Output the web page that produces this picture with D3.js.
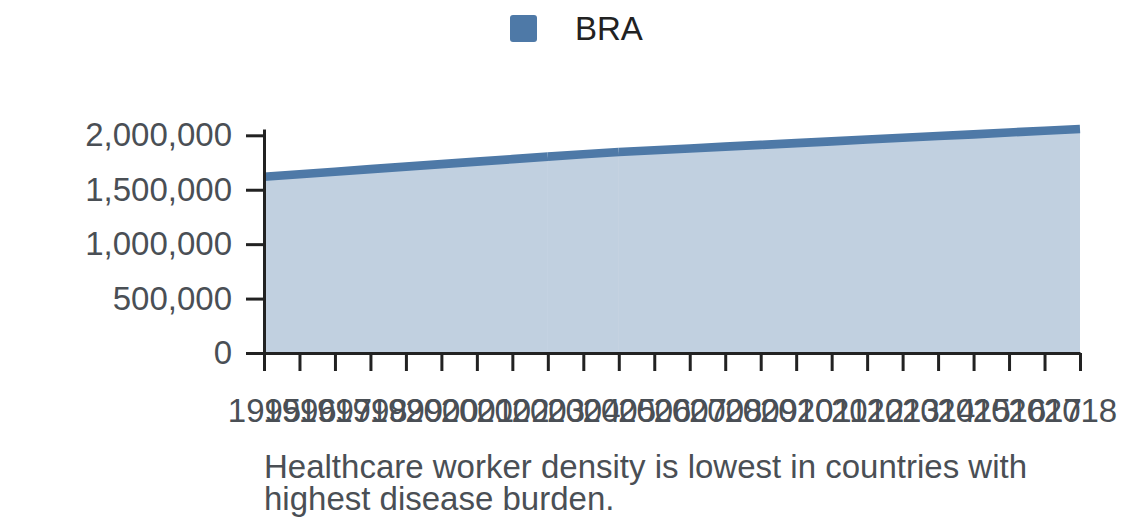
<!DOCTYPE html>
<html>
<head>
<meta charset="utf-8">
<script src="https://cdn.jsdelivr.net/npm/d3@7/dist/d3.min.js"></script>
<style>
  html, body { margin: 0; padding: 0; background: #fff; }
  svg { display: block; font-family: "Liberation Sans", Arial, sans-serif; }
</style>
</head>
<body>
<svg id="chart" width="1140" height="528"></svg>
<script>
const years = [1995,1996,1997,1998,1999,2000,2001,2002,2003,2004,2005,2006,2007,2008,2009,2010,2011,2012,2013,2014,2015,2016,2017,2018];
const braValues = [1620000,1643000,1666000,1689000,1712000,1735000,1758000,1781000,1804000,1826000,1847000,1863000,1879000,1896000,1912000,1928000,1944000,1961000,1977000,1993000,2009000,2026000,2042000,2058000];
const segmentBreaks = [2003, 2005];
const yTicks = [0, 500000, 1000000, 1500000, 2000000];
const seriesName = "BRA";
const caption = ["Healthcare worker density is lowest in countries with", "highest disease burden."];

(function () {
const color = "#4e79a7";
const svg = d3.select("#chart");
const mLeft = 264, mRight = 1080, mTop = 129, mBottom = 353;

const data = years.map((yr, i) => ({ year: yr, value: braValues[i] }));

const x = d3.scalePoint().domain(years).range([mLeft, mRight]).padding(0);
const y = d3.scaleLinear().domain([0, d3.max(braValues)]).range([mBottom, mTop]);

const cuts = [years[0], ...segmentBreaks, years[years.length - 1]];
const segments = [];
for (let i = 0; i < cuts.length - 1; i++) {
  segments.push(data.filter(d => d.year >= cuts[i] && d.year <= cuts[i + 1]));
}

const area = d3.area().x(d => x(d.year)).y0(y(0)).y1(d => y(d.value));
const line = d3.line().x(d => x(d.year)).y(d => y(d.value));

const g = svg.append("g");
segments.forEach(seg => {
  g.append("path").datum(seg).attr("d", area)
    .attr("fill", color).attr("fill-opacity", 0.35);
});
segments.forEach(seg => {
  g.append("path").datum(seg).attr("d", line)
    .attr("fill", "none").attr("stroke", color).attr("stroke-width", 8.6);
});

const xAxis = d3.axisBottom(x).tickSizeInner(18).tickSizeOuter(0).tickPadding(28);
const yAxis = d3.axisLeft(y).tickValues(yTicks).tickFormat(d3.format(",")).tickSizeInner(18).tickSizeOuter(0).tickPadding(14);

const gx = svg.append("g").attr("transform", `translate(0,${mBottom})`).call(xAxis);
const gy = svg.append("g").attr("transform", `translate(${mLeft},0)`).call(yAxis);

[gx, gy].forEach(ax => {
  ax.attr("font-family", null).attr("font-size", null);
  ax.selectAll("path.domain").attr("stroke", "#222").attr("stroke-width", 3);
  ax.selectAll(".tick line").attr("stroke", "#222").attr("stroke-width", 3);
  ax.selectAll(".tick text").attr("fill", "#4a4f55")
    .style("font-family", "'Liberation Sans', Arial, sans-serif").style("font-size", "33px");
});

const lg = svg.append("g");
lg.append("rect").attr("x", 510).attr("y", 15).attr("width", 27).attr("height", 27).attr("rx", 3)
  .attr("fill", color);
lg.append("text").attr("x", 575).attr("y", 39.5).text(seriesName)
  .attr("fill", "#222").style("font-size", "33px");

const cap = svg.append("text").attr("x", 264).attr("y", 478)
  .attr("fill", "#4a4f55").style("font-size", "33px");
caption.forEach((t, i) => {
  cap.append("tspan").attr("x", 264).attr("dy", i === 0 ? 0 : 32).text(t);
});
})();
</script>
</body>
</html>
